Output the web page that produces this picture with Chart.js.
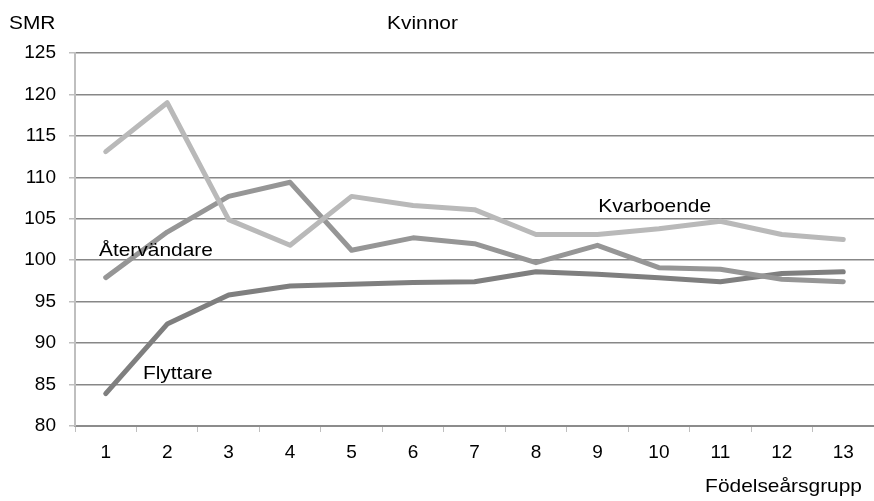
<!DOCTYPE html>
<html><head><meta charset="utf-8">
<script src="https://cdn.jsdelivr.net/npm/chart.js@4/dist/chart.umd.min.js"></script>
<style>html,body{margin:0;padding:0;background:#fff}#wrap{width:874px;height:501px}</style>
</head><body><div id="wrap"><canvas id="c" width="874" height="501"></canvas></div>
<script>
const categories = ['1','2','3','4','5','6','7','8','9','10','11','12','13'];
const kvarboende = [113.1, 119.0, 104.9, 101.8, 107.7, 106.6, 106.1, 103.1, 103.1, 103.8, 104.7, 103.1, 102.5];
const atervandare = [97.9, 103.4, 107.7, 109.4, 101.2, 102.7, 102.0, 99.7, 101.8, 99.1, 98.9, 97.7, 97.4];
const flyttare = [83.9, 92.3, 95.8, 96.9, 97.1, 97.3, 97.4, 98.6, 98.3, 97.9, 97.4, 98.4, 98.6];
const yTicks = [80, 85, 90, 95, 100, 105, 110, 115, 120, 125];
const seriesNames = ['Kvarboende', 'Återvändare', 'Flyttare'];
// label anchors in data units: [category index (float), value]
const labelAnchors = {Kvarboende: [8.015, 106.4], 'Återvändare': [-0.11, 101.1], Flyttare: [0.605, 86.3]};

const F = '"Liberation Sans", Arial, sans-serif';
function stretchedText(ctx, txt, x, y, align) {
  ctx.save();
  ctx.translate(x, y);
  ctx.scale(1.13, 1);
  ctx.textAlign = align || 'left';
  ctx.fillText(txt, 0, 0);
  ctx.restore();
}
const textPlugin = {
  id: 'texts',
  afterDraw(chart) {
    const ctx = chart.ctx, x = chart.scales.x, y = chart.scales.y;
    ctx.save();
    ctx.fillStyle = '#000';
    ctx.font = '18.5px ' + F;
    ctx.textBaseline = 'middle';
    stretchedText(ctx, 'SMR', 9, 24);
    stretchedText(ctx, 'Kvinnor', 387, 24);
    stretchedText(ctx, 'Födelseårsgrupp', 862, 487, 'right');
    for (const name of seriesNames) {
      const a = labelAnchors[name];
      stretchedText(ctx, name, x.getPixelForValue(a[0]), y.getPixelForValue(a[1]));
    }
    ctx.restore();
  }
};

new Chart(document.getElementById('c'), {
  type: 'line',
  data: {
    labels: categories,
    datasets: [
      {label: seriesNames[0], data: kvarboende, borderColor: '#b9b9b9', borderWidth: 5, pointRadius: 0, tension: 0, borderCapStyle: 'round', borderJoinStyle: 'round'},
      {label: seriesNames[1], data: atervandare, borderColor: '#969696', borderWidth: 5, pointRadius: 0, tension: 0, borderCapStyle: 'round', borderJoinStyle: 'round'},
      {label: seriesNames[2], data: flyttare, borderColor: '#7f7f7f', borderWidth: 5, pointRadius: 0, tension: 0, borderCapStyle: 'round', borderJoinStyle: 'round'}
    ]
  },
  options: {
    responsive: false,
    animation: false,
    devicePixelRatio: 1,
    layout: {padding: {top: 53, right: 0, left: 0, bottom: 0}},
    plugins: {legend: {display: false}, tooltip: {enabled: false}, title: {display: false}},
    scales: {
      x: {
        offset: true,
        grid: {offset: true, drawOnChartArea: false, drawTicks: true, tickLength: 6, tickColor: '#bfbfbf', lineWidth: 1},
        border: {color: '#8c8c8c', width: 2},
        ticks: {color: '#000', font: {family: F, size: 19}, padding: 9, maxRotation: 0, autoSkip: false},
        afterFit(s) { s.height = 75; }
      },
      y: {
        min: 80, max: 125,
        afterBuildTicks(s) { s.ticks = yTicks.map(v => ({value: v})); },
        grid: {color: '#878787', lineWidth: 1.5, tickLength: 6, tickColor: '#bfbfbf'},
        border: {color: '#bfbfbf', width: 2},
        ticks: {color: '#000', font: {family: F, size: 19}, padding: 13},
        afterFit(s) { s.width = 75; }
      }
    }
  },
  plugins: [textPlugin]
});
</script></body></html>
